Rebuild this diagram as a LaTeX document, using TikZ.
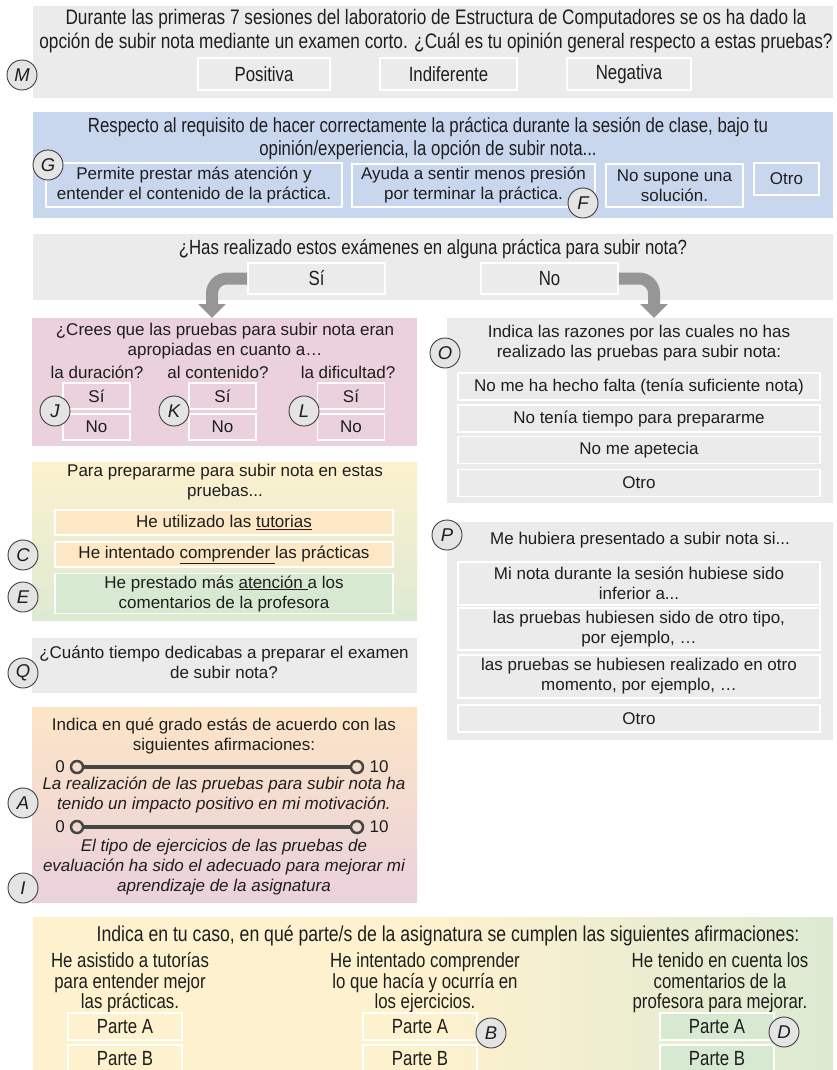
\documentclass[tikz,border=0pt]{standalone}
\usepackage{fontspec}
\setmainfont{Liberation Sans}
\newfontfamily\narrowfont[FakeStretch=0.82]{Liberation Sans}
\usetikzlibrary{arrows.meta}

\definecolor{ink}{RGB}{30,30,30}
\definecolor{panelgray}{RGB}{235,235,235}
\definecolor{panelblue}{RGB}{200,215,238}
\definecolor{panelpink}{RGB}{234,209,220}
\definecolor{softyellow}{RGB}{253,241,206}
\definecolor{softgreen}{RGB}{220,234,210}
\definecolor{softorange}{RGB}{252,229,198}
\definecolor{boxorange}{RGB}{252,232,197}
\definecolor{boxgreen}{RGB}{216,233,210}
\definecolor{tagfill}{RGB}{228,228,228}
\definecolor{tagline}{RGB}{60,60,60}
\definecolor{arrowgray}{RGB}{150,150,150}
\definecolor{railgray}{RGB}{70,70,70}

\tikzset{
  txt/.style={align=center, inner sep=0pt, text=ink},
  nar/.style={font=\narrowfont\fontsize{20.5bp}{23bp}\selectfont},
  narwide/.style={font=\narrowfont\fontsize{21bp}{24bp}\selectfont},
  narhead/.style={font=\narrowfont\fontsize{21.5bp}{24bp}\selectfont},
  narcol/.style={font=\narrowfont\fontsize{20.5bp}{20.5bp}\selectfont},
  slant/.style={font=\fontsize{17bp}{20bp}\selectfont\itshape},
  opt/.style={txt, draw=white, line width=1.6bp},
  tag/.style={circle, draw=tagline, fill=tagfill, line width=0.9bp, minimum size=30bp,
    inner sep=0pt, text=ink, font=\fontsize{18.5bp}{18bp}\selectfont\itshape},
  knob/.style={circle, draw=railgray, line width=2.5bp, minimum size=12bp, inner sep=0pt},
  rail/.style={draw=railgray, line width=3.5bp},
  bigarrow/.style={draw=arrowgray, line width=12bp, rounded corners=15bp,
    -{Triangle[width=27bp,length=14bp]}}
}

\begin{document}
\begin{tikzpicture}[x=1bp, y=-1bp, every node/.style={font=\fontsize{17bp}{20bp}\selectfont}]
  \useasboundingbox (0,0) rectangle (837,1070);

  \fill[panelgray] (33,6) rectangle (833,98);
  \fill[panelblue] (33,112) rectangle (833,218);
  \fill[panelgray] (33,234) rectangle (833,300);
  \fill[panelpink] (32,318) rectangle (417,446);
  \fill[panelgray] (447,318) rectangle (833,503);
  \shade[top color=softyellow, bottom color=softgreen] (32,462) rectangle (417,620);
  \fill[panelgray] (447,522) rectangle (833,740);
  \fill[panelgray] (32,638) rectangle (417,693);
  \shade[top color=softorange, bottom color=panelpink] (32,707) rectangle (417,902);
  \fill[softyellow] (33,917) rectangle (441,1070);
  \shade[left color=softyellow, right color=softgreen] (440,917) rectangle (833,1070);

  % opinion general
  \node[txt, narwide] (mq) at (436,31) {Durante las primeras 7 sesiones del laboratorio de Estructura de Computadores se os ha dado la\\opción de subir nota mediante un examen corto. ¿Cuál es tu opinión general respecto a estas pruebas?};
  \node[opt, nar, minimum width=132bp, minimum height=32bp] (pos) at (264,74) {Positiva};
  \node[opt, nar, minimum width=137bp, minimum height=32bp] (ind) at (448.5,74) {Indiferente};
  \node[opt, nar, minimum width=124bp, minimum height=32bp] (neg) at (629,74) {Negativa};
  \node[tag] (tm) at (22,75) {M};

  % requisito de la practica
  \node[txt, nar] (gq) at (428,139) {Respecto al requisito de hacer correctamente la práctica durante la sesión de clase, bajo tu\\opinión/experiencia, la opción de subir nota...};
  \node[opt, minimum width=296bp, minimum height=44bp] (g1) at (194,185) {Permite prestar más atención y\\entender el contenido de la práctica.};
  \node[opt, minimum width=243bp, minimum height=43bp] (g2) at (473.5,185.5) {Ayuda a sentir menos presión\\por terminar la práctica.};
  \node[opt, minimum width=137bp, minimum height=43bp] (g3) at (674.5,185.5) {No supone una\\solución.};
  \node[opt, minimum width=65bp, minimum height=32bp] (g4) at (786.5,179) {Otro};
  \node[tag] (tg) at (48,165) {G};
  \node[tag] (tf) at (583,203) {F};

  % si / no
  \node[txt, nar] (sq) at (433,249) {¿Has realizado estos exámenes en alguna práctica para subir nota?};
  \node[opt, nar, minimum width=137bp, minimum height=31bp] (si) at (316.5,278.5) {Sí};
  \node[opt, nar, minimum width=137bp, minimum height=31bp] (no) at (549.5,278.5) {No};
  \coordinate (siend) at (212,318);
  \coordinate (noend) at (654,318);
  \draw[bigarrow] (si.west) -| (siend);
  \draw[bigarrow] (no.east) -| (noend);

  % rama si
  \node[txt] (jq) at (225,341.5) {¿Crees que las pruebas para subir nota eran\\apropiadas en cuanto a…};
  \foreach \bx/\lx/\tx/\t/\lab in {96.5/97/55/J/la duración?, 222.5/218/174/K/al contenido?, 351/348/304/L/la dificultad?}{
    \node[txt] (lab\t) at (\lx,372) {\lab};
    \node[opt, minimum width=67bp, minimum height=26bp] (si\t) at (\bx,396) {Sí};
    \node[opt, minimum width=67bp, minimum height=26bp] (no\t) at (\bx,427) {No};
    \node[tag] (t\t) at (\tx,411) {\t};
  }

  % rama no
  \node[txt] (oq) at (639,343) {Indica las razones por las cuales no has\\realizado las pruebas para subir nota:};
  \foreach \y/\n/\s in {386.5/1/No me ha hecho falta (tenía suficiente nota), 418.5/2/No tenía tiempo para prepararme, 450/3/No me apetecia, 483/4/Otro}
    \node[opt, minimum width=362bp, minimum height=27bp] (o\n) at (639,\y) {\s};
  \node[tag] (to) at (445,353) {O};

  \node[txt] (cq) at (225,482) {Para prepararme para subir nota en estas\\pruebas...};
  \node[opt, fill=boxorange, minimum width=338bp, minimum height=25bp] (c1) at (224,522.5) {He utilizado las \underline{tutorias}};
  \node[opt, fill=boxorange, minimum width=338bp, minimum height=25bp] (c2) at (224,554.5) {He intentado \underline{comprender\ }las prácticas};
  \node[opt, fill=boxgreen, minimum width=338bp, minimum height=40bp] (c3) at (224,593.5) {He prestado más \underline{atención\ }a los\\comentarios de la profesora};
  \node[tag] (tc) at (23,555) {C};
  \node[tag] (te) at (23,597) {E};

  \node[txt] (pq) at (640,540) {Me hubiera presentado a subir nota si...};
  \foreach \y/\h/\n/\s in {583.5/43/1/{Mi nota durante la sesión hubiese sido\\inferior a...}, 629/42/2/{las pruebas hubiesen sido de otro tipo,\\por ejemplo, …}, 676.5/43/3/{las pruebas se hubiesen realizado en otro\\momento, por ejemplo, …}, 718.5/27/4/Otro}
    \node[opt, minimum width=362bp, minimum height=\h bp] (p\n) at (639,\y) {\s};
  \node[tag] (tp) at (447,535) {P};

  \node[txt] (qq) at (224,662.5) {¿Cuánto tiempo dedicabas a preparar el examen\\de subir nota?};
  \node[tag] (tq) at (23,673) {Q};

  % escalas 0-10
  \node[txt] (aq) at (224,736) {Indica en qué grado estás de acuerdo con las\\siguientes afirmaciones:};
  \foreach \y/\n in {767/1, 827/2}{
    \node[knob] (lo\n) at (77,\y) {};
    \node[knob] (hi\n) at (357,\y) {};
    \draw[rail] (lo\n) -- (hi\n);
    \node[txt] (zero\n) at (60,\y) {0};
    \node[txt] (ten\n) at (379,\y) {10};
  }
  \node[txt, slant] (aa) at (224,795) {La realización de las pruebas para subir nota ha\\tenido un impacto positivo en mi motivación.};
  \node[txt, slant] (ia) at (224,867.5) {El tipo de ejercicios de las pruebas de\\evaluación ha sido el adecuado para mejorar mi\\aprendizaje de la asignatura};
  \node[tag] (ta) at (23,803) {A};
  \node[tag] (ti) at (23,888) {I};

  % partes de la asignatura
  \node[txt, narhead] (bq) at (448,936) {Indica en tu caso, en qué parte/s de la asignatura se cumplen las siguientes afirmaciones:};
  \node[txt, narcol] (b1) at (130,983) {He asistido a tutorías\\para entender mejor\\las prácticas.};
  \node[txt, narcol] (b2) at (425,983) {He intentado comprender\\lo que hacía y ocurría en\\los ejercicios.};
  \node[txt, narcol] (b3) at (720,983) {He tenido en cuenta los\\comentarios de la\\profesora para mejorar.};
  \foreach \x/\n/\f in {125/1/none, 420/2/none, 717/3/boxgreen}{
    \node[opt, nar, fill=\f, minimum width=114bp, minimum height=27bp] (pa\n) at (\x,1026.5) {Parte A};
    \node[opt, nar, fill=\f, minimum width=114bp, minimum height=27bp] (pb\n) at (\x,1058.5) {Parte B};
  }
  \node[tag] (tb) at (491,1033) {B};
  \node[tag] (td) at (784,1032) {D};
\end{tikzpicture}
\end{document}
